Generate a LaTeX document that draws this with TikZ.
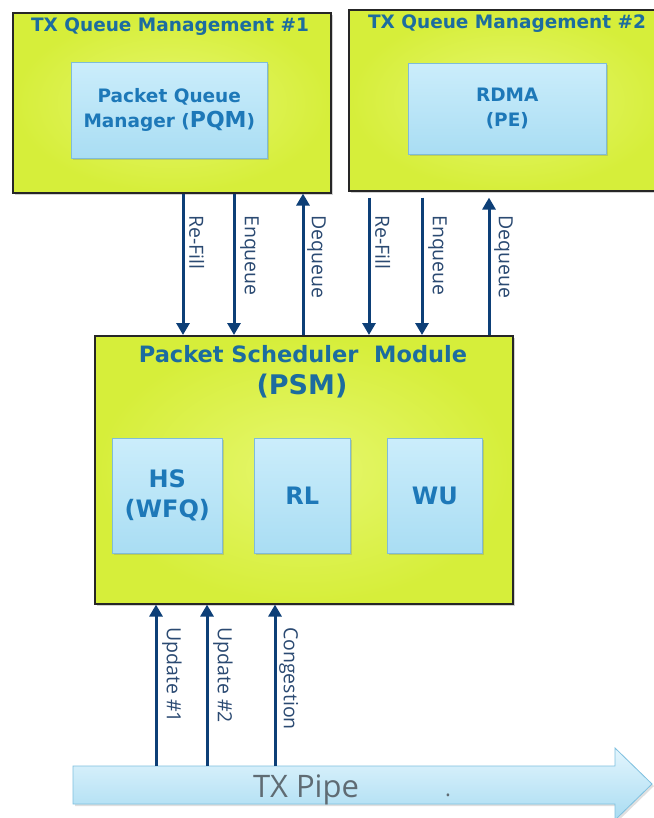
\documentclass[tikz,border=0pt]{standalone}
\usepackage{fontspec}
\setmainfont{DejaVu Sans}
\newfontfamily\lblfont{Open Sans}
\usetikzlibrary{arrows.meta,shadows,calc}
\definecolor{ygreen}{HTML}{D6EE3A}
\definecolor{ygreenlt}{HTML}{E6F76E}
\definecolor{boxblue}{HTML}{A9DDF3}
\definecolor{boxbluelt}{HTML}{CBEDFB}
\definecolor{boxblueedge}{HTML}{7FBCD8}
\definecolor{titleblue}{HTML}{1C6C9F}
\definecolor{innerblue}{HTML}{1D78B8}
\definecolor{arrnavy}{HTML}{0D3F77}
\definecolor{lblcol}{HTML}{2B4A72}
\definecolor{pipetop}{HTML}{E3F5FD}
\definecolor{pipebot}{HTML}{A9DCF2}
\definecolor{pipeedge}{HTML}{7EC0DF}
\definecolor{pipetext}{HTML}{5F6B73}
\tikzset{
  outerbox/.style={draw=black!85, line width=1.6pt, inner color=ygreenlt, outer color=ygreen,
    drop shadow={shadow xshift=2pt, shadow yshift=-2pt, opacity=0.35}},
  innerbox/.style={draw=boxblueedge, line width=0.6pt, top color=boxbluelt, bottom color=boxblue,
    drop shadow={shadow xshift=2pt, shadow yshift=-2pt, opacity=0.3}, text=innerblue,
    align=center},
  ttl/.style={text=titleblue},
  flow/.style={draw=arrnavy, line width=3pt, -{Triangle[length=12pt,width=13pt]}},
  lbl/.style={text=lblcol, font=\lblfont\fontsize{19.5}{19.5}\selectfont, rotate=-90, anchor=south west, inner sep=1pt}
}
\begin{document}
\begin{tikzpicture}[x=1pt,y=-1pt]
\useasboundingbox (0,0) rectangle (653,818);
\fill[white] (0,0) rectangle (653,818);
% outer boxes
\node[outerbox, minimum width=318pt, minimum height=180pt, anchor=north west] (qm1) at (12,12) {};
\node[outerbox, minimum width=320pt, minimum height=181pt, anchor=north west] (qm2) at (348,9) {};
\node[outerbox, minimum width=418pt, minimum height=268pt, anchor=north west] (psm) at (94,335) {};
% titles
\node[ttl, font=\bfseries\fontsize{18.5}{18.5}\selectfont] (t1) at (170,27) {TX Queue Management \#1};
\node[ttl, font=\bfseries\fontsize{18.5}{18.5}\selectfont] (t2) at (507,24) {TX Queue Management \#2};
\node[ttl, font=\bfseries\fontsize{22.5}{22.5}\selectfont] (t3) at (303,354) {Packet Scheduler\ \ Module};
\node[ttl, font=\bfseries\fontsize{27}{27}\selectfont] (t4) at (302,386) {(PSM)};
% inner boxes
\node[innerbox, font=\bfseries\fontsize{18.5}{25}\selectfont, minimum width=196pt, minimum height=96pt, anchor=north west] (pqm) at (71,62)
  {Packet Queue\\Manager ({\fontsize{22}{25}\selectfont PQM})};
\node[innerbox, font=\bfseries\fontsize{18.5}{25}\selectfont, minimum width=198pt, minimum height=91pt, anchor=north west] (rdma) at (408,63)
  {RDMA\\(PE)};
\node[innerbox, font=\bfseries\fontsize{24}{30}\selectfont, minimum width=110pt, minimum height=115pt, anchor=north west] (hs) at (112,438)
  {HS\\(WFQ)};
\node[innerbox, font=\bfseries\fontsize{24}{30}\selectfont, minimum width=96pt, minimum height=115pt, anchor=north west] (rl) at (254,438)
  {RL};
\node[innerbox, font=\bfseries\fontsize{24}{30}\selectfont, minimum width=95pt, minimum height=115pt, anchor=north west] (wu) at (387,438)
  {WU};
% pipe
\path[draw=pipeedge, line width=0.8pt, top color=pipetop, bottom color=pipebot,
  drop shadow={shadow xshift=2pt, shadow yshift=-2pt, opacity=0.25}]
  (73,766) -- (615,766) -- (615,748) -- (652,784) -- (615,820) -- (615,804) -- (73,804) -- cycle;
\coordinate (pipe) at (73,766);
\node[text=pipetext, font=\lblfont\fontsize{31}{31}\selectfont, anchor=base] (pipetxt) at (306,797) {TX Pipe};
\node[text=pipetext, font=\lblfont\fontsize{22}{22}\selectfont, anchor=base] (dot) at (448,796) {.};
% x positions
\foreach \n/\x in {a/183,b/234,c/303,d/369,e/422,f/489,g/156,h/207,i/275}{\coordinate (x\n) at (\x,0);}
% top arrows
\draw[flow] (qm1.south -| xa) -- (psm.north -| xa);
\draw[flow] (qm1.south -| xb) -- (psm.north -| xb);
\draw[flow] (psm.north -| xc) -- (qm1.south -| xc);
\draw[flow] ([yshift=-6pt]qm2.south -| xd) -- (psm.north -| xd);
\draw[flow] ([yshift=-6pt]qm2.south -| xe) -- (psm.north -| xe);
\draw[flow] (psm.north -| xf) -- ([yshift=-6pt]qm2.south -| xf);
% bottom arrows
\draw[flow] (pipe -| xg) -- (psm.south -| xg);
\draw[flow] (pipe -| xh) -- (psm.south -| xh);
\draw[flow] (pipe -| xi) -- (psm.south -| xi);
% labels
\node[lbl] (l1) at (188,214) {Re-Fill};
\node[lbl] (l2) at (239,214) {Enqueue};
\node[lbl] (l3) at (306,214) {Dequeue};
\node[lbl] (l4) at (374,214) {Re-Fill};
\node[lbl] (l5) at (427,214) {Enqueue};
\node[lbl] (l6) at (493,214) {Dequeue};
\node[lbl] (l7) at (161,626) {Update \#1};
\node[lbl] (l8) at (212,626) {Update \#2};
\node[lbl] (l9) at (278,626) {Congestion};
\end{tikzpicture}
\end{document}
